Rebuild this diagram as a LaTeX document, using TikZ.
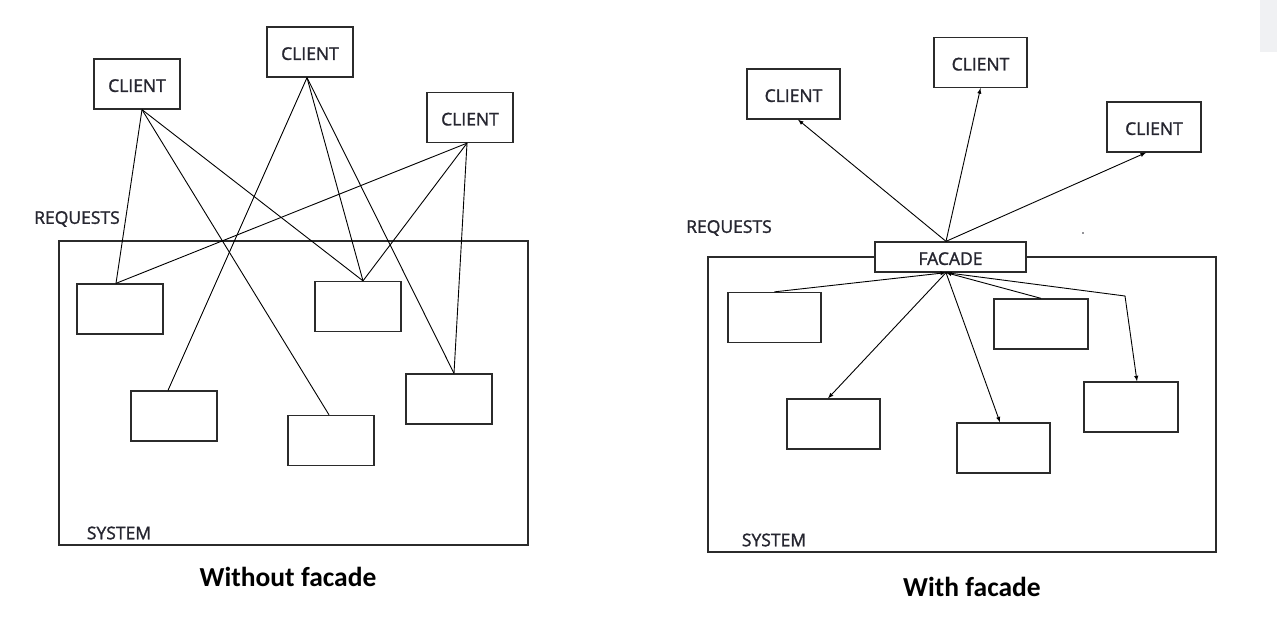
\documentclass[tikz,border=0pt]{standalone}
\usepackage{fontspec}
\setmainfont{Open Sans}
\newfontfamily\boxfont{Open Sans}[FakeBold=1.5]
\newfontfamily\captionfont{Carlito}
\usepackage{tikz}
\usetikzlibrary{arrows,positioning}

\definecolor{ink}{HTML}{262630}
\definecolor{edge}{HTML}{2B2B2B}
\definecolor{panel}{HTML}{F0F1F3}

\tikzset{
  box/.style={draw=edge,line width=1.3pt,fill=white,inner sep=0pt,text height=16pt,
    minimum width=#1,minimum height=50pt,font=\boxfont\fontsize{17.5}{20}\selectfont,text=ink},
  box/.default=86pt,
  lbl/.style={inner sep=0pt,font=\boxfont\fontsize{17.5}{20}\selectfont,text=ink},
  caption/.style={inner sep=0pt,font=\captionfont\bfseries\fontsize{27.5}{30}\selectfont},
  wire/.style={line width=0.9pt,black},
}

\begin{document}
\begin{tikzpicture}[x=1pt,y=-1pt]
\useasboundingbox (0,0) rectangle (1277,621);
\fill[panel] (1260,0) rectangle (1277,52);

% without facade
\node[draw=edge,line width=1.3pt,minimum width=469pt,minimum height=304pt] (sysL) at (293.5,393) {};
\node[box] (L1) at (137,84) {CLIENT};
\node[box] (L2) at (310,52) {CLIENT};
\node[box] (L3) at (470,117.5) {CLIENT};

\node[box] (A) at (120,309) {};
\node[box] (B) at (358,306.5) {};
\node[box] (C) at (174,416) {};
\node[box] (D) at (331,440.5) {};
\node[box] (E) at (449,399) {};

\coordinate (l1) at ([xshift=5pt]L1.south);
\coordinate (l2) at ([xshift=-3pt]L2.south);
\coordinate (l3) at ([xshift=-3pt]L3.south);
\coordinate (a) at ([xshift=-4pt]A.north);
\coordinate (b) at ([xshift=5pt]B.north);
\coordinate (c) at ([xshift=-6pt]C.north);
\coordinate (d) at ([xshift=-2pt]D.north);
\coordinate (e) at ([xshift=5pt]E.north);

\draw[wire] (l1) -- (a);
\draw[wire] (l1) -- (b);
\draw[wire] (l1) -- (d);
\draw[wire] (l2) -- (c);
\draw[wire] (l2) -- (b);
\draw[wire] (l2) -- (e);
\draw[wire] (l3) -- (a);
\draw[wire] (l3) -- (b);
\draw[wire] (l3) -- (e);

\node[lbl] (reqL) at (77,219) {REQUESTS};
\node[lbl] (sysLlbl) at (119,533) {SYSTEM};
\node[caption] (capL) at (288,577) {Without facade};

% with facade
\node[draw=edge,line width=1.3pt,minimum width=508pt,minimum height=295pt] (sysR) at (962,404.5) {};
\node[box=93pt] (R1) at (793.5,94) {CLIENT};
\node[box=93pt] (R2) at (980.5,62.5) {CLIENT};
\node[box=94pt] (R3) at (1154,127) {CLIENT};
\node[box=151pt,minimum height=30pt] (F) at (950.5,257) {FACADE};

\node[box=93pt] (S1) at (774.5,317.5) {};
\node[box=94pt] (S2) at (1041,324) {};
\node[box=93pt] (S3) at (833.5,424) {};
\node[box=93pt] (S4) at (1003.5,448) {};
\node[box=94pt] (S5) at (1131,407) {};

\coordinate (up) at ([xshift=-4.5pt]F.north);
\coordinate (down) at ([xshift=-4.5pt]F.south);
\coordinate (bend) at (1125,296);

\draw[wire,-latex] (up) -- ([xshift=4.5pt]R1.south);
\draw[wire,-latex] (up) -- (R2.south);
\draw[wire,-latex] (up) -- ([xshift=-8pt]R3.south);

\draw[wire,-latex] (S1.north) -- (down);
\draw[wire,-latex] (S2.north) -- (down);
\draw[wire,-latex] (down) -- ([xshift=-5.5pt]S3.north);
\draw[wire,-latex] (down) -- ([xshift=-3.5pt]S4.north);
\draw[wire,-latex] (down) -- (bend) -- ([xshift=6pt]S5.north);

\fill[ink] (1083,233) circle (0.8);

\node[lbl] (reqR) at (729,228) {REQUESTS};
\node[lbl] (sysRlbl) at (774,540) {SYSTEM};
\node[caption] (capR) at (972,587) {With facade};
\end{tikzpicture}
\end{document}
